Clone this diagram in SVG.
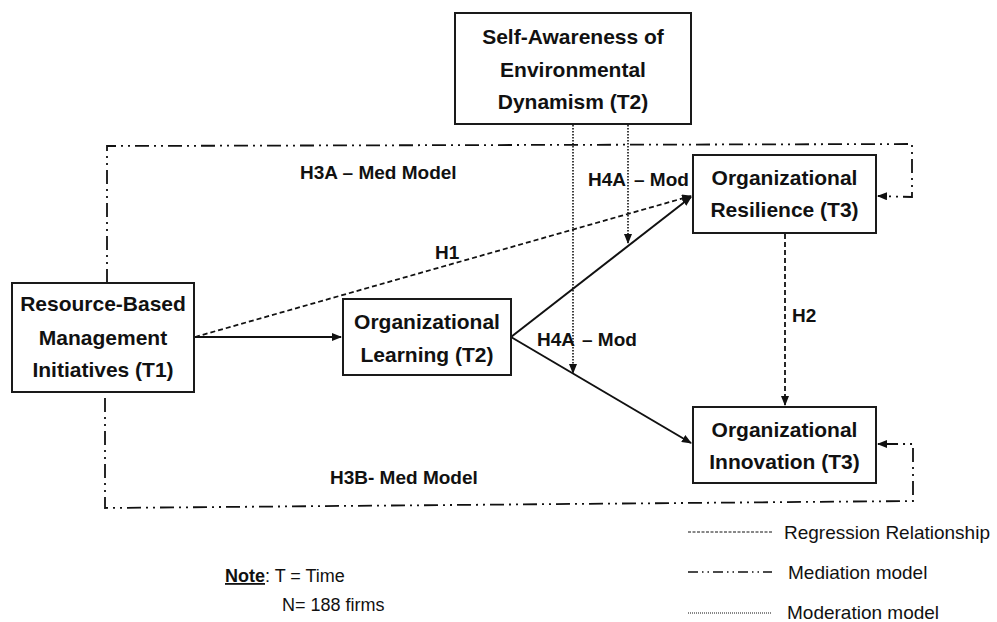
<svg xmlns="http://www.w3.org/2000/svg" width="997" height="622" viewBox="0 0 997 622">
<style>
.box{fill:#fff;stroke:#1a1a1a;stroke-width:2}
.nt{font-family:"Liberation Sans",Arial,sans-serif;font-weight:bold;font-size:21px;fill:#111;text-anchor:middle}
.lb{font-family:"Liberation Sans",Arial,sans-serif;font-weight:bold;font-size:19px;fill:#111}
.rg{font-family:"Liberation Sans",Arial,sans-serif;font-size:19px;fill:#111}
.nt2{font-family:"Liberation Sans",Arial,sans-serif;font-size:18px;fill:#111}
.solid{fill:none;stroke:#111;stroke-width:2}
.reg{fill:none;stroke:#111;stroke-width:1.8;stroke-dasharray:5 3}
.med{fill:none;stroke:#111;stroke-width:1.8;stroke-dasharray:14 5 2 5 2 5}
.mod{fill:none;stroke:#111;stroke-width:1.6;stroke-dasharray:1.5 1.5}
</style>
<defs>
<marker id="ah" markerWidth="10" markerHeight="8" refX="9" refY="4" orient="auto" markerUnits="userSpaceOnUse">
<path d="M0,0 L10,4 L0,8 z" fill="#111"/>
</marker>
</defs>
<g id="connectors">
<path class="med" d="M107,283 L107,146 L912,144 L912,197 L878,196" marker-end="url(#ah)"/>
<path class="med" d="M105,398 L105,508 L913,501 L913,444 L878,444" marker-end="url(#ah)"/>
<path class="reg" d="M195,337 L691,196" marker-end="url(#ah)"/>
<path class="solid" d="M195,337 L341,337" marker-end="url(#ah)"/>
<path class="solid" d="M511,337 L691,197" marker-end="url(#ah)"/>
<path class="solid" d="M511,337 L691,443" marker-end="url(#ah)"/>
<path class="reg" d="M785,234 L785,405" marker-end="url(#ah)"/>
<path class="mod" d="M628,125 L628,243" marker-end="url(#ah)"/>
<path class="mod" d="M573,125 L573,373" marker-end="url(#ah)"/>
</g>
<g id="labels">
<text class="lb" x="300" y="179">H3A – Med Model</text>
<text class="lb" x="435" y="259">H1</text>
<text class="lb" x="588" y="186">H4A</text>
<text class="lb" x="634" y="186">– Mod</text>
<text class="lb" x="537" y="346">H4A</text>
<text class="lb" x="582" y="346">– Mod</text>
<text class="lb" x="792" y="322">H2</text>
<text class="lb" x="330" y="484">H3B- Med Model</text>
</g>
<g id="n_self">
<rect class="box" x="455" y="13" width="236" height="111"/>
<text class="nt" x="573" y="44">Self-Awareness of</text>
<text class="nt" x="573" y="77">Environmental</text>
<text class="nt" x="573" y="109">Dynamism (T2)</text>
</g>
<g id="n_rbm">
<rect class="box" x="12" y="283" width="182" height="109"/>
<text class="nt" x="103" y="311">Resource-Based</text>
<text class="nt" x="103" y="345">Management</text>
<text class="nt" x="103" y="377">Initiatives (T1)</text>
</g>
<g id="n_learning">
<rect class="box" x="343" y="299" width="168" height="76"/>
<text class="nt" x="427" y="329">Organizational</text>
<text class="nt" x="427" y="362">Learning (T2)</text>
</g>
<g id="n_resilience">
<rect class="box" x="693" y="155" width="183" height="78"/>
<text class="nt" x="784.5" y="185">Organizational</text>
<text class="nt" x="784.5" y="217">Resilience (T3)</text>
</g>
<g id="n_innovation">
<rect class="box" x="693" y="407" width="183" height="76"/>
<text class="nt" x="784.5" y="437">Organizational</text>
<text class="nt" x="784.5" y="469">Innovation (T3)</text>
</g>
<g id="legend">
<line class="reg" x1="688" y1="532" x2="772" y2="532" style="stroke-width:1;stroke-dasharray:3 1.5"/>
<text class="rg" x="784" y="539">Regression Relationship</text>
<line class="med" x1="688" y1="572" x2="772" y2="572" style="stroke-width:1.3;stroke-dasharray:10 4 1.5 4 1.5 4"/>
<text class="rg" x="788" y="579">Mediation model</text>
<line class="mod" x1="688" y1="613" x2="772" y2="613" style="stroke-width:1;stroke-dasharray:1 1"/>
<text class="rg" x="787" y="619">Moderation model</text>
</g>
<g id="note">
<text class="nt2" x="225" y="582"><tspan font-weight="bold" text-decoration="underline">Note</tspan>: T = Time</text>
<text class="nt2" x="282" y="611">N= 188 firms</text>
</g>
</svg>
